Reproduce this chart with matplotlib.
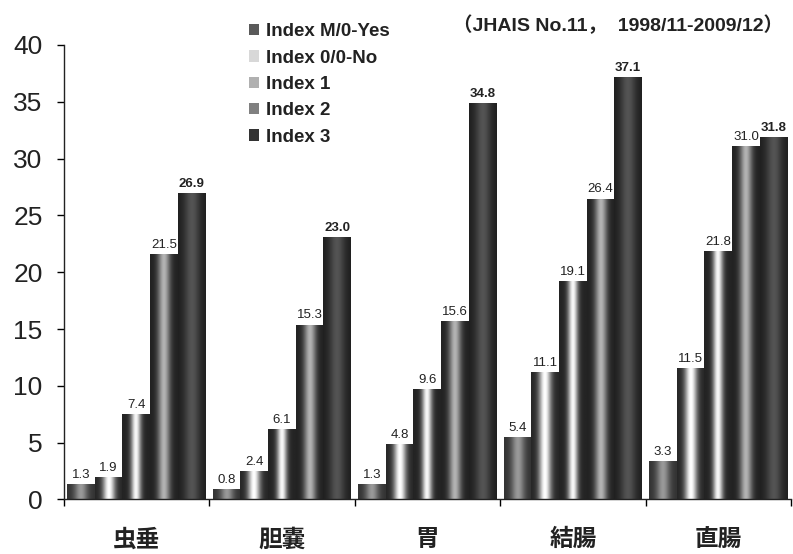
import numpy as np
import matplotlib
matplotlib.use("Agg")
import matplotlib.pyplot as plt
from matplotlib.patches import Patch

plt.rcParams["font.family"] = ["Liberation Sans", "Noto Sans CJK JP"]

organs = ["虫垂", "胆嚢", "胃", "結腸", "直腸"]
series_names = ["Index M/0-Yes", "Index 0/0-No", "Index 1", "Index 2", "Index 3"]
m0_yes = [1.3, 0.8, 1.3, 5.4, 3.3]
o0_no = [1.9, 2.4, 4.8, 11.1, 11.5]
index_1 = [7.4, 6.1, 9.6, 19.1, 21.8]
index_2 = [21.5, 15.3, 15.6, 26.4, 31.0]
index_3 = [26.9, 23.0, 34.8, 37.1, 31.8]
values = [m0_yes, o0_no, index_1, index_2, index_3]
yticks = [0, 5, 10, 15, 20, 25, 30, 35, 40]

# cylinder shading per series: edge gray, centre gray, highlight width
shades = [(0.2, 0.6, 0.24), (0.15, 1.0, 0.22), (0.14, 0.97, 0.18),
          (0.13, 0.7, 0.22), (0.12, 0.33, 0.28)]
legend_gray = ["#5a5a5a", "#d8d8d8", "#b0b0b0", "#808080", "#333333"]

fig = plt.figure(figsize=(7.93, 5.54), dpi=100)
ax = fig.add_axes([0.0801, 0.0984, 0.9174, 0.8204])

x = np.arange(len(organs))
width = 0.19
u = np.linspace(0, 1, 200)

for i, vals in enumerate(values):
    offs = (i - 2) * width
    bars = ax.bar(x + offs, vals, width, facecolor="none", edgecolor="none")
    edge, centre, w = shades[i]
    grad = edge + (centre - edge) * np.exp(-((u - 0.5) / w) ** 2)
    for p, v in zip(bars.patches, vals):
        x0 = p.get_x()
        ax.imshow(grad[np.newaxis, :], extent=[x0, x0 + p.get_width(), 0, v],
                  cmap="gray", vmin=0, vmax=1, aspect="auto",
                  interpolation="bilinear", zorder=2)
        ax.annotate(f"{v:.1f}", (x0 + p.get_width() / 2, v),
                    xytext=(0, 3), textcoords="offset points",
                    ha="center", va="bottom", fontsize=9.5,
                    fontweight="bold" if i == 4 else "normal",
                    color="#222222", zorder=3)

ax.set_xlim(-0.5, len(organs) - 0.5)
ax.set_ylim(0, 40)
ax.set_yticks(yticks)
ax.tick_params(axis="y", labelsize=19, length=5, width=1, pad=10,
               labelcolor="#222222")
ax.set_xticks(np.arange(len(organs) + 1) - 0.5)
ax.set_xticklabels([])
ax.tick_params(axis="x", which="major", length=5, width=1)
ax.set_xticks(x, minor=True)
ax.set_xticklabels(organs, minor=True, fontsize=17, fontweight="bold",
                   family=["Noto Sans CJK JP"], color="#222222")
ax.tick_params(axis="x", which="minor", length=0, pad=20)
for s in ["top", "right"]:
    ax.spines[s].set_visible(False)
for s in ["left", "bottom"]:
    ax.spines[s].set_linewidth(1)
    ax.spines[s].set_color("#222222")

handles = [Patch(facecolor=c, edgecolor="none") for c in legend_gray]
fig.legend(handles, series_names, loc="upper left",
           bbox_to_anchor=(0.302, 0.975), frameon=False,
           prop={"size": 13.5, "weight": "bold"}, handlelength=0.55,
           handleheight=0.55, handletextpad=0.35, labelspacing=0.5,
           borderpad=0, labelcolor="#222222")

fig.text(0.987, 0.955, "（JHAIS No.11，  1998/11-2009/12）", ha="right",
         va="center", fontsize=14, fontweight="bold", color="#222222")

fig.savefig("out.png", dpi=100)
